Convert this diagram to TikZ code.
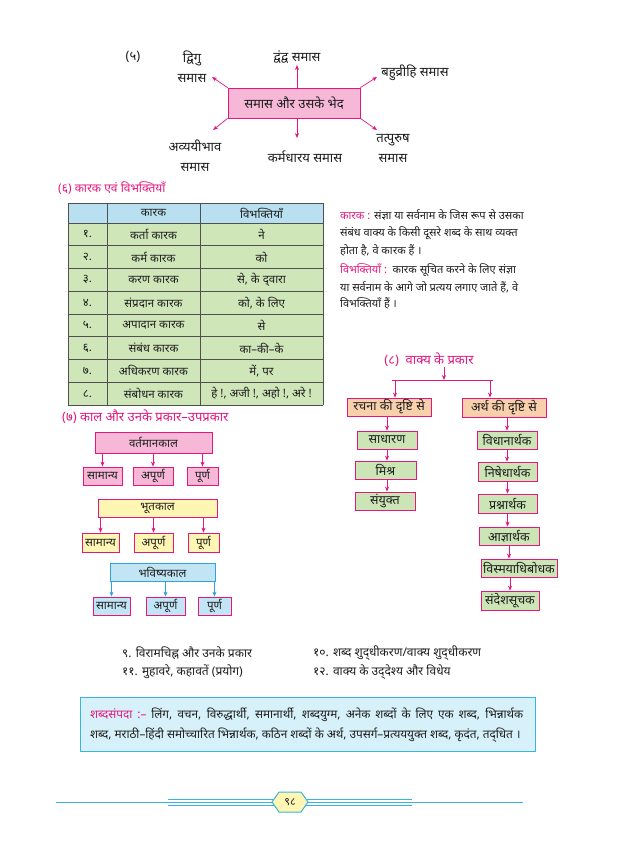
\documentclass[tikz,border=0pt]{standalone}
\usepackage{fontspec}
\setmainfont[Script=Devanagari]{Noto Sans}
\usetikzlibrary{arrows.meta}
\definecolor{mag}{HTML}{E2187F}
\definecolor{pinkf}{HTML}{F7B8D8}
\definecolor{yelf}{HTML}{FFF6B4}
\definecolor{bluef}{HTML}{C2E5F5}
\definecolor{bluel}{HTML}{2EA3DC}
\definecolor{peachf}{HTML}{F9D0AC}
\definecolor{greenf}{HTML}{CCE5B6}
\definecolor{thead}{HTML}{B9E0F0}
\definecolor{tbody}{HTML}{CFE6B9}
\definecolor{tline}{HTML}{505050}
\definecolor{cyanf}{HTML}{D6F1F9}
\definecolor{cyanl}{HTML}{39B4E2}
\definecolor{txtc}{HTML}{1E1E1E}
\newcommand\myfs[1]{\fontsize{#1}{#1}\selectfont}
\begin{document}
\begin{tikzpicture}[x=1pt,y=-1pt,
  every node/.style={inner sep=0pt, font=\myfs{11}, text=txtc},
  top/.style={font=\myfs{13}},
  twol/.style={align=center, font=\fontsize{13}{20}\selectfont},
  tab/.style={font=\myfs{11.5}},
  defn/.style={anchor=west, font=\myfs{11}},
  sev/.style={font=\myfs{11.5}},
  eig/.style={font=\myfs{12.5}},
  lst/.style={anchor=west, font=\myfs{12}},
  arr/.style={-{Stealth[length=5pt,width=4pt]}, mag, line width=0.7pt},
  barr/.style={-{Stealth[length=5pt,width=4pt]}, bluel, line width=0.7pt},
  pbox/.style={draw=mag, fill=pinkf, line width=0.8pt},
  ybox/.style={draw=mag, fill=yelf, line width=0.8pt},
  bbox/.style={draw=bluel, fill=bluef, line width=0.8pt},
  bmbox/.style={draw=mag, fill=bluef, line width=0.8pt},
  obox/.style={draw=mag, fill=peachf, line width=0.8pt, eig},
  gbox/.style={draw=mag, fill=greenf, line width=0.8pt, eig},
  head/.style={text=mag, anchor=west, font=\myfs{12.5}}]
\useasboundingbox (0,0) rectangle (640,852);
\fill[white] (0,0) rectangle (640,852);

% ---------- (5) samas ----------
\node[top] (n5) at (133,57) {(५)};
\node[pbox, top, minimum width=132, minimum height=30] (sam) at (294,103) {समास और उसके भेद};
\node[twol] (dvigu) at (192,67) {द्विगु\\समास};
\node[top] (dvandva) at (297,57) {द्वंद्व समास};
\node[top] (bahu) at (415,73) {बहुव्रीहि समास};
\node[twol] (avyay) at (195,156) {अव्ययीभाव\\समास};
\node[top] (karm) at (305,157) {कर्मधारय समास};
\node[twol] (tat) at (393,149) {तत्पुरुष\\समास};
\coordinate (aU) at (297,65);
\coordinate (aD) at (297,138);
\coordinate (aUL) at (212,77);
\coordinate (aUR) at (377,77);
\coordinate (aDL) at (213,130);
\coordinate (aDR) at (377,130);
\draw[arr] (aU |- sam.north) -- (aU);
\draw[arr] (aD |- sam.south) -- (aD);
\draw[arr] (sam.north west) -- (aUL);
\draw[arr] (sam.north east) -- (aUR);
\draw[arr] (sam.south west) -- (aDL);
\draw[arr] (sam.south east) -- (aDR);

% ---------- (6) karak table ----------
\node[head, font=\myfs{12}] (h6) at (58,188) {(६) कारक एवं विभक्तियाँ};
\fill[thead] (68,203) rectangle (323,223);
\fill[tbody] (68,223) rectangle (323,405);
\foreach \y in {203,223,245.75,268.5,291.25,314,336.75,359.5,382.25,405}
  \draw[tline, line width=0.8pt] (68,\y) -- (323,\y);
\foreach \x in {68,107,200,323}
  \draw[tline, line width=0.8pt] (\x,203) -- (\x,405);
\node[tab] (th1) at (153.5,213) {कारक};
\node[tab] (th2) at (261.5,213) {विभक्तियाँ};
\foreach \i/\n/\k/\v in {1/{१.}/{कर्ता कारक}/{ने},
  2/{२.}/{कर्म कारक}/{को},
  3/{३.}/{करण कारक}/{से, के द्‌वारा},
  4/{४.}/{संप्रदान कारक}/{को, के लिए},
  5/{५.}/{अपादान कारक}/{से},
  6/{६.}/{संबंध कारक}/{का–की–के},
  7/{७.}/{अधिकरण कारक}/{में, पर},
  8/{८.}/{संबोधन कारक}/{हे !, अजी !, अहो !, अरे !}}{
  \node[tab] (tn\i) at (87.5,{223+22.75*(\i-0.5)}) {\n};
  \node[tab] (tk\i) at (153.5,{223+22.75*(\i-0.5)}) {\k};
  \node[tab] (tv\i) at (261.5,{223+22.75*(\i-0.5)}) {\v};
}

% ---------- right definitions ----------
\node[defn] (d1) at (340,215) {\textcolor{mag}{कारक :} संज्ञा या सर्वनाम के जिस रूप से उसका};
\node[defn] (d2) at (340,233) {संबंध वाक्य के किसी दूसरे शब्द के साथ व्यक्त};
\node[defn] (d3) at (340,250) {होता है, वे कारक हैं ।};
\node[defn] (d4) at (340,270) {\textcolor{mag}{विभक्तियाँ :}\ \ कारक सूचित करने के लिए संज्ञा};
\node[defn] (d5) at (340,287) {या सर्वनाम के आगे जो प्रत्यय लगाए जाते हैं, वे};
\node[defn] (d6) at (340,303) {विभक्तियाँ हैं ।};

% ---------- (7) kal ----------
\node[head, font=\myfs{13}] (h7) at (62,417) {(७) काल और उनके प्रकार–उपप्रकार};
\node[pbox, sev, minimum width=117, minimum height=21] (V) at (153.5,442.5) {वर्तमानकाल};
\node[pbox, sev, minimum width=39, minimum height=18] (V1) at (102.5,476) {सामान्य};
\node[pbox, sev, minimum width=40, minimum height=18] (V2) at (153,476) {अपूर्ण};
\node[pbox, sev, minimum width=31, minimum height=18] (V3) at (202.5,476) {पूर्ण};
\foreach \c in {V1,V2,V3} \draw[arr] (\c.north |- V.south) -- (\c.north);

\node[ybox, sev, minimum width=119, minimum height=18] (B) at (157.5,508) {भूतकाल};
\node[ybox, sev, minimum width=37, minimum height=19] (B1) at (100.5,542.5) {सामान्य};
\node[ybox, sev, minimum width=39, minimum height=19] (B2) at (153.5,542.5) {अपूर्ण};
\node[ybox, sev, minimum width=31, minimum height=19] (B3) at (203.5,542.5) {पूर्ण};
\foreach \c in {B1,B2,B3} \draw[arr] (\c.north |- B.south) -- (\c.north);

\node[bbox, sev, minimum width=105, minimum height=18] (F) at (162.5,572) {भविष्यकाल};
\node[bmbox, sev, minimum width=37, minimum height=18] (F1) at (111.5,606) {सामान्य};
\node[bmbox, sev, minimum width=39, minimum height=18] (F2) at (165.5,606) {अपूर्ण};
\node[bmbox, sev, minimum width=33, minimum height=18] (F3) at (214.5,606) {पूर्ण};
\foreach \c in {F1,F2,F3} \draw[barr] (\c.north |- F.south) -- (\c.north);

% ---------- (8) vakya ----------
\node[font=\myfs{13}] (h8) at (429,360) {\textcolor{mag}{(८)\ \ वाक्य के प्रकार}};
\coordinate (jt) at (444,380);
\coordinate (jl) at (395,380);
\coordinate (jr) at (490,380);
\coordinate (hl) at (392,380);
\coordinate (hr) at (493,380);
\draw[arr] (jt |- h8.south) -- (jt);
\draw[mag, line width=0.7pt] (hl) -- (hr);
\node[obox, minimum width=84, minimum height=18] (R) at (389,407) {रचना की दृष्टि से};
\node[obox, minimum width=84, minimum height=19] (A) at (504,407.5) {अर्थ की दृष्टि से};
\draw[arr] (jl) -- (jl |- R.north);
\draw[arr] (jr) -- (jr |- A.north);

\node[gbox, minimum width=60, minimum height=18] (R1) at (387,440) {साधारण};
\node[gbox, minimum width=61, minimum height=18] (R2) at (385.5,470) {मिश्र};
\node[gbox, minimum width=60, minimum height=18] (R3) at (385,501) {संयुक्त};
\draw[arr] (R.south -| R1.north) -- (R1.north);
\draw[arr] (R1.south) -- (R1.south |- R2.north);
\draw[arr] (R1.south |- R2.south) -- (R1.south |- R3.north);

\node[gbox, minimum width=60, minimum height=18] (A1) at (507,440) {विधानार्थक};
\node[gbox, minimum width=59, minimum height=19] (A2) at (507.5,471.5) {निषेधार्थक};
\node[gbox, minimum width=59, minimum height=19] (A3) at (507.5,503.5) {प्रश्नार्थक};
\node[gbox, minimum width=60, minimum height=18] (A4) at (509,536) {आज्ञार्थक};
\node[gbox, minimum width=76, minimum height=18] (A5) at (519,568) {विस्मयाधिबोधक};
\node[gbox, minimum width=58, minimum height=19] (A6) at (510,600.5) {संदेशसूचक};
\draw[arr] (A.south -| A1.north) -- (A1.north);
\draw[arr] (A1.south) -- (A1.south |- A2.north);
\draw[arr] (A2.south) -- (A2.south |- A3.north);
\draw[arr] (A3.south) -- (A3.south |- A4.north);
\draw[arr] (A4.south) -- (A4.south |- A5.north);
\draw[arr] (A6.north |- A5.south) -- (A6.north);

% ---------- list ----------
\node[lst] (l9) at (122,653) {९. विरामचिह्न और उनके प्रकार};
\node[lst] (l10) at (313,653) {१०. शब्द शुद्‌धीकरण/वाक्य शुद्‌धीकरण};
\node[lst] (l11) at (122,672) {११. मुहावरे, कहावतें (प्रयोग)};
\node[lst] (l12) at (313,672) {१२. वाक्य के उद्‌देश्य और विधेय};

% ---------- shabdsampada box ----------
\node[draw=cyanl, fill=cyanf, line width=1pt, minimum width=455, minimum height=54] (sbox) at (307.5,724) {};
\node[anchor=west, font=\myfs{11.8}] (s1) at (90,715) {\hbox to 433pt{\textcolor{mag}{शब्दसंपदा :–} लिंग, वचन, विरुद्धार्थी, समानार्थी, शब्दयुग्म, अनेक शब्दों के लिए एक शब्द, भिन्नार्थक}};
\node[anchor=west, font=\myfs{11.8}] (s2) at (90,735) {शब्द, मराठी–हिंदी समोच्चारित भिन्नार्थक, कठिन शब्दों के अर्थ, उपसर्ग–प्रत्यययुक्त शब्द, कृदंत, तद्‌धित ।};

% ---------- footer ----------
\draw[cyanl, line width=0.8pt] (56,802) -- (523,802);
\draw[cyanl, line width=0.8pt] (168,799) -- (412,799);
\draw[cyanl, line width=0.8pt] (168,805) -- (412,805);
\filldraw[cyanl, fill=yelf, line width=1pt] (272,802) -- (279,792) -- (301,792) -- (308,802) -- (301,812) -- (279,812) -- cycle;
\node (pg) at (290,802) {९८};
\end{tikzpicture}
\end{document}
